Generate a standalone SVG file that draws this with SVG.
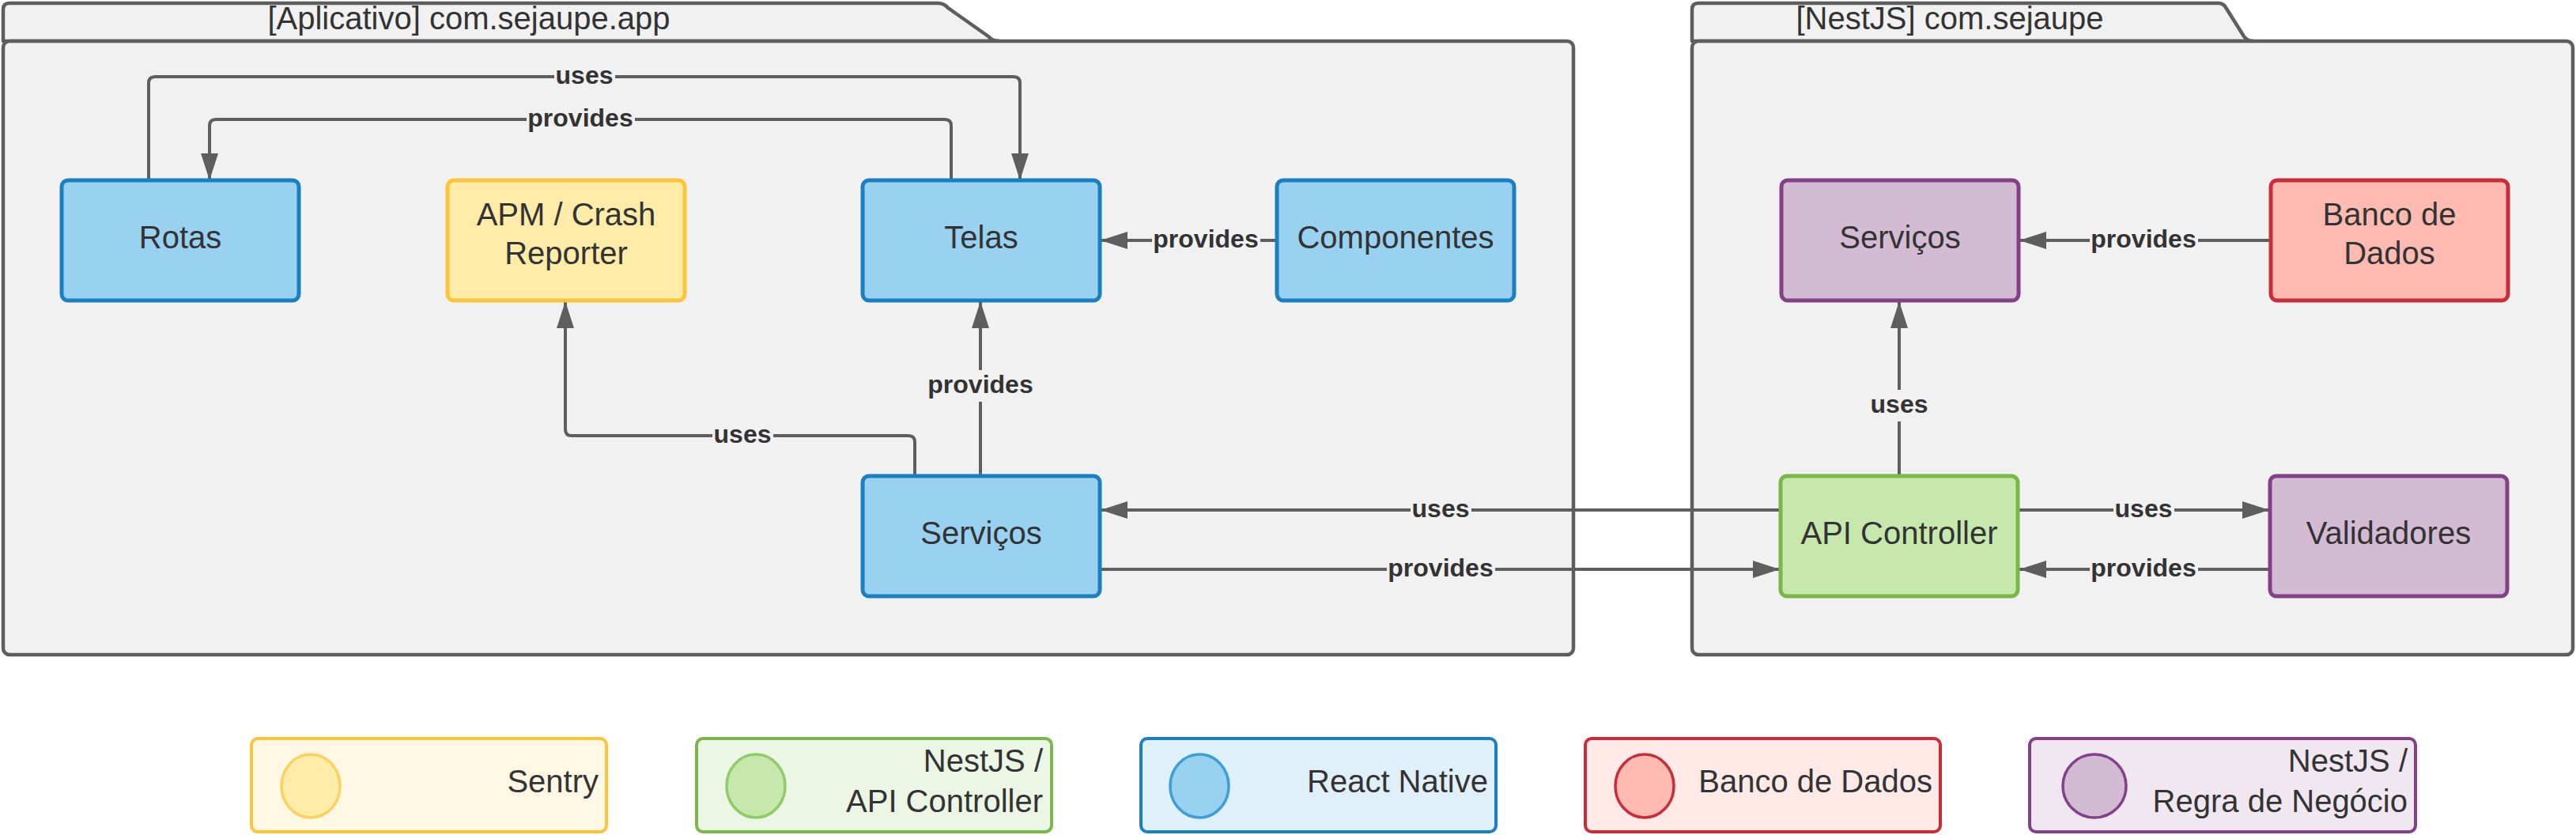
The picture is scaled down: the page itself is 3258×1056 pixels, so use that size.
<svg xmlns="http://www.w3.org/2000/svg" width="3258" height="1056" viewBox="0 0 3258 1056">
<defs>
<style>
.frame{fill:#f1f1f1;stroke:#5e5e5e;stroke-width:4.5;stroke-linejoin:round}
.ttl{font-family:"Liberation Sans",Arial,sans-serif;font-size:40px;fill:#333333;text-anchor:middle}
.nt{font-family:"Liberation Sans",Arial,sans-serif;font-size:40px;fill:#333333;text-anchor:middle}
.lt{font-family:"Liberation Sans",Arial,sans-serif;font-size:40px;fill:#333333;text-anchor:end}
.blue{fill:#99d1f1;stroke:#1b80c1;stroke-width:5}
.yellow{fill:#ffeca9;stroke:#fcc438;stroke-width:5}
.green{fill:#c6e8ad;stroke:#7ab648;stroke-width:5}
.purple{fill:#d3bbd3;stroke:#834187;stroke-width:5}
.red{fill:#ffbbb1;stroke:#c92d39;stroke-width:5}
.conn{fill:none;stroke:#5e5e5e;stroke-width:4;marker-end:url(#arr)}
.lbg{fill:#f1f1f1}
.lbl{font-family:"Liberation Sans",Arial,sans-serif;font-size:32px;font-weight:bold;fill:#333333;text-anchor:middle}
</style>
<marker id="arr" markerUnits="userSpaceOnUse" markerWidth="34" markerHeight="22" refX="34" refY="11" orient="auto">
<path d="M0,0 L34,11 L0,22 Z" fill="#5e5e5e"/>
</marker>
</defs>
<rect width="3258" height="1056" fill="#ffffff"/>

<g id="frame-app">
<path class="frame" d="M4 52 V12 Q4 4 12 4 H1186 Q1194 4 1199 10 L1250 46 Q1255 52 1264 52 Z"/>
<rect class="frame" x="4" y="52" width="1986" height="776" rx="8"/>
<text class="ttl" x="593" y="37">[Aplicativo] com.sejaupe.app</text>
</g>
<g id="frame-nest">
<path class="frame" d="M2140 52 V12 Q2140 4 2148 4 H2805 Q2813 4 2816 11 L2838 46 Q2842 52 2850 52 Z"/>
<rect class="frame" x="2140" y="52" width="1114" height="776" rx="8"/>
<text class="ttl" x="2466" y="37">[NestJS] com.sejaupe</text>
</g>

<g id="connectors">
<path class="conn" d="M188 228 V105 Q188 97 196 97 H1282 Q1290 97 1290 105 V228"/>
<path class="conn" d="M1203 228 V159 Q1203 151 1195 151 H273 Q265 151 265 159 V228"/>
<path class="conn" d="M1615 304 H1392"/>
<path class="conn" d="M1157 602 V559 Q1157 551 1149 551 H723 Q715 551 715 543 V381"/>
<path class="conn" d="M1240 602 V381"/>
<path class="conn" d="M2252 645 H1392"/>
<path class="conn" d="M1391 720 H2251"/>
<path class="conn" d="M2402 602 V381"/>
<path class="conn" d="M2872 304 H2554"/>
<path class="conn" d="M2553 645 H2870"/>
<path class="conn" d="M2871 720 H2554"/>
<rect class="lbg" x="701" y="77" width="77" height="40"/><text class="lbl" x="739" y="106">uses</text>
<rect class="lbg" x="666" y="131" width="137" height="40"/><text class="lbl" x="734" y="160">provides</text>
<rect class="lbg" x="1457" y="284" width="137" height="40"/><text class="lbl" x="1525" y="313">provides</text>
<rect class="lbg" x="901" y="531" width="77" height="40"/><text class="lbl" x="939" y="560">uses</text>
<rect class="lbg" x="1172" y="468" width="137" height="40"/><text class="lbl" x="1240" y="497">provides</text>
<rect class="lbg" x="1784" y="625" width="77" height="40"/><text class="lbl" x="1822" y="654">uses</text>
<rect class="lbg" x="1754" y="700" width="137" height="40"/><text class="lbl" x="1822" y="729">provides</text>
<rect class="lbg" x="2364" y="493" width="77" height="40"/><text class="lbl" x="2402" y="522">uses</text>
<rect class="lbg" x="2643" y="284" width="137" height="40"/><text class="lbl" x="2711" y="313">provides</text>
<rect class="lbg" x="2673" y="625" width="77" height="40"/><text class="lbl" x="2711" y="654">uses</text>
<rect class="lbg" x="2643" y="700" width="137" height="40"/><text class="lbl" x="2711" y="729">provides</text>
</g>

<g id="rotas"><rect class="blue" x="78" y="228" width="300" height="152" rx="8"/><text class="nt" x="228" y="314">Rotas</text></g>
<g id="apm"><rect class="yellow" x="566" y="228" width="300" height="152" rx="8"/><text class="nt" x="716" y="285">APM / Crash</text><text class="nt" x="716" y="334">Reporter</text></g>
<g id="telas"><rect class="blue" x="1091" y="228" width="300" height="152" rx="8"/><text class="nt" x="1241" y="314">Telas</text></g>
<g id="componentes"><rect class="blue" x="1615" y="228" width="300" height="152" rx="8"/><text class="nt" x="1765" y="314">Componentes</text></g>
<g id="servicos-app"><rect class="blue" x="1091" y="602" width="300" height="152" rx="8"/><text class="nt" x="1241" y="688">Serviços</text></g>
<g id="servicos-nest"><rect class="purple" x="2253" y="228" width="300" height="152" rx="8"/><text class="nt" x="2403" y="314">Serviços</text></g>
<g id="banco"><rect class="red" x="2872" y="228" width="300" height="152" rx="8"/><text class="nt" x="3022" y="285">Banco de</text><text class="nt" x="3022" y="334">Dados</text></g>
<g id="api-controller"><rect class="green" x="2252" y="602" width="300" height="152" rx="8"/><text class="nt" x="2402" y="688">API Controller</text></g>
<g id="validadores"><rect class="purple" x="2871" y="602" width="300" height="152" rx="8"/><text class="nt" x="3021" y="688">Validadores</text></g>

<g id="legend-sentry"><rect x="318" y="934" width="449" height="118" rx="8" fill="#fef8e4" stroke="#fcc438" stroke-width="4"/><ellipse cx="393" cy="994" rx="37" ry="40" fill="#ffeca9" stroke="#fdd15e" stroke-width="3.5"/><text class="lt" x="757" y="1002">Sentry</text></g>
<g id="legend-nestjs-api"><rect x="881" y="934" width="449" height="118" rx="8" fill="#ecf6e4" stroke="#7ab648" stroke-width="4"/><ellipse cx="956" cy="994" rx="37" ry="40" fill="#c6e8ad" stroke="#8fcb68" stroke-width="3.5"/><text class="lt" x="1319" y="976">NestJS /</text><text class="lt" x="1319" y="1027">API Controller</text></g>
<g id="legend-react"><rect x="1443" y="934" width="449" height="118" rx="8" fill="#e0f0fa" stroke="#1b80c1" stroke-width="4"/><ellipse cx="1517" cy="994" rx="37" ry="40" fill="#99d1f1" stroke="#3d9fd6" stroke-width="3.5"/><text class="lt" x="1882" y="1002">React Native</text></g>
<g id="legend-banco"><rect x="2005" y="934" width="449" height="118" rx="8" fill="#ffeae8" stroke="#c92d39" stroke-width="4"/><ellipse cx="2080" cy="994" rx="37" ry="40" fill="#ffbbb1" stroke="#c92d39" stroke-width="3.5"/><text class="lt" x="2444" y="1002">Banco de Dados</text></g>
<g id="legend-nestjs-regra"><rect x="2567" y="934" width="488" height="118" rx="8" fill="#f0e7f0" stroke="#834187" stroke-width="4"/><ellipse cx="2649" cy="994" rx="40" ry="40" fill="#d3bbd3" stroke="#834187" stroke-width="3.5"/><text class="lt" x="3045" y="976">NestJS /</text><text class="lt" x="3045" y="1027">Regra de Negócio</text></g>
</svg>
